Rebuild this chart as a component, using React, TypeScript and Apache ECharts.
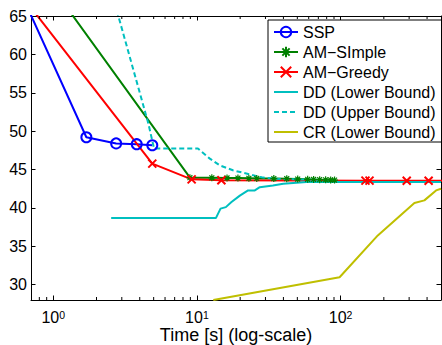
import React, { useEffect, useRef } from 'react';
import * as echarts from 'echarts';

const sspX = [0.612, 1.7, 2.74, 3.81, 4.89];
const sspY = [67.5, 49.2, 48.4, 48.3, 48.16];
const amSimpleX = [0.953, 8.94, 12.7, 16.2, 19.3, 23.0, 26.1, 34.3, 42.2, 50.3, 59.0, 64.9, 71.5, 78.7, 85.3, 90.8];
const amSimpleY = [69.1, 43.94, 43.92, 43.9, 43.88, 43.86, 43.84, 43.82, 43.8, 43.76, 43.72, 43.7, 43.68, 43.66, 43.64, 43.62];
const amGreedyX = [0.612, 4.89, 9.19, 14.8, 149, 159, 288.6, 410, 600];
const amGreedyY = [67.5, 45.77, 43.72, 43.6, 43.55, 43.55, 43.53, 43.53, 43.53];
const ddLowerX = [2.53, 13.55, 14.6, 15.9, 17.4, 19.9, 22.7, 25.3, 27.4, 33.8, 39.9, 52, 57.8, 500];
const ddLowerY = [38.67, 38.67, 39.9, 40.1, 40.76, 41.6, 42.28, 42.28, 42.7, 42.93, 43.15, 43.3, 43.37, 43.37];
const ddUpperX = [2.5, 4.59, 5.03, 10.16, 12.3, 14.4, 17.8, 23.3, 28.3, 34.8, 90];
const ddUpperY = [68.7, 51.0, 47.73, 47.73, 46.42, 45.55, 44.9, 44.37, 43.98, 43.79, 43.6];
const crLowerX = [13, 98.4, 181.6, 326.4, 383, 462, 500];
const crLowerY = [28, 30.97, 36.41, 40.63, 40.98, 42.28, 42.5];

const seriesNames = ['SSP', 'AM\u2212SImple', 'AM\u2212Greedy', 'DD (Lower Bound)', 'DD (Upper Bound)', 'CR (Lower Bound)'];
const minorTickValues = [0.8, 0.9, 2, 3, 4, 5, 6, 7, 8, 9, 20, 30, 40, 50, 60, 70, 80, 90, 200, 300, 400];

const X_MIN = 0.7;
const X_MAX = 500;
const Y_MIN = 28;
const Y_MAX = 65;

const FONT = '"Liberation Sans", Arial, Helvetica, sans-serif';

const zip = (xs: number[], ys: number[]) => xs.map((x, i) => [x, ys[i]]);

const X_PATH = 'path://M0,0L10,10M10,0L0,10';
const STAR_PATH = 'path://M5,0L5,10M0,5L10,5M1.5,1.5L8.5,8.5M8.5,1.5L1.5,8.5';

function buildOption() {
  const logLabel = (v: number) => {
    const l = Math.log10(v);
    const e = Math.round(l);
    if (Math.abs(l - e) > 1e-6) return '';
    return '{b|10}{s|' + e + '}';
  };
  const xCommon = {
    type: 'log',
    logBase: 10,
    min: X_MIN,
    max: X_MAX,
    splitLine: { show: false },
    axisLine: { show: true, onZero: false, lineStyle: { color: '#000', width: 1 } },
    axisTick: { show: true, inside: true, length: 4.5, lineStyle: { color: '#000', width: 1 } },
    minorTick: { show: false },
  };
  const yCommon = {
    type: 'value',
    min: Y_MIN,
    max: Y_MAX,
    splitNumber: 7,
    minInterval: 5,
    maxInterval: 5,
    splitLine: { show: false },
    axisLine: { show: true, onZero: false, lineStyle: { color: '#000', width: 1 } },
    axisTick: { show: true, inside: true, length: 4.5, lineStyle: { color: '#000', width: 1 } },
  };
  const lineSeries = (name: string, xs: number[], ys: number[], color: string, extra: any) => ({
    name,
    type: 'line',
    data: zip(xs, ys),
    lineStyle: { color, width: 2, ...(extra.lineStyle || {}) },
    itemStyle: extra.symbol
      ? { color: 'rgba(0,0,0,0)', borderColor: color, borderWidth: extra.borderWidth || 2 }
      : { color: 'rgba(0,0,0,0)', borderColor: 'rgba(0,0,0,0)', borderWidth: 0 },
    symbol: extra.symbol || 'none',
    symbolSize: extra.symbolSize || 6,
    showSymbol: !!extra.symbol,
    clip: true,
    emphasis: { disabled: true },
    silent: true,
    z: 3,
  });
  return {
    animation: false,
    backgroundColor: '#fff',
    textStyle: { fontFamily: FONT },
    grid: { left: 31, top: 16, right: 1, bottom: 45, containLabel: false, outerBoundsMode: 'none' },
    legend: {
      orient: 'vertical',
      left: 268,
      top: 20,
      itemWidth: 24,
      itemHeight: 13,
      itemGap: 4,
      padding: [4, 6, 2, 5],
      backgroundColor: '#fff',
      borderColor: '#000',
      borderWidth: 1,
      borderRadius: 0,
      textStyle: { fontSize: 16, color: '#000', fontFamily: FONT },
      data: seriesNames,
      selectedMode: false,
    },
    xAxis: [
      {
        ...xCommon,
        position: 'bottom',
        axisLabel: {
          show: true,
          margin: 9.5,
          showMinLabel: false,
          showMaxLabel: false,
          color: '#000',
          formatter: logLabel,
          rich: {
            b: { fontSize: 16, lineHeight: 16, verticalAlign: 'bottom', color: '#000', fontFamily: FONT },
            s: { fontSize: 10.5, lineHeight: 7, verticalAlign: 'top', color: '#000', fontFamily: FONT },
          },
        },
        name: 'Time [s] (log-scale)',
        nameLocation: 'middle',
        nameGap: 26,
        nameMoveOverlap: false,
        nameTextStyle: { fontSize: 18, color: '#000', fontFamily: FONT },
      },
      {
        ...xCommon,
        position: 'top',
        axisLabel: { show: false },
      },
    ],
    yAxis: [
      {
        ...yCommon,
        position: 'left',
        axisLabel: { show: true, margin: 4, fontSize: 16, color: '#000', fontFamily: FONT, showMinLabel: false,
          formatter: (v: number) => (v % 5 === 0 ? String(v) : '') },
      },
      {
        ...yCommon,
        position: 'right',
        axisLabel: { show: false },
      },
    ],
    series: [
      lineSeries(seriesNames[0], sspX, sspY, '#0000ff', { symbol: 'circle', symbolSize: 10 }),
      lineSeries(seriesNames[1], amSimpleX, amSimpleY, '#008000', { symbol: STAR_PATH, symbolSize: 7, borderWidth: 1.2 }),
      lineSeries(seriesNames[2], amGreedyX, amGreedyY, '#ff0000', { symbol: X_PATH, symbolSize: 8 }),
      lineSeries(seriesNames[3], ddLowerX, ddLowerY, '#00bfbf', {}),
      lineSeries(seriesNames[4], ddUpperX, ddUpperY, '#00bfbf', { lineStyle: { type: [5, 3] } }),
      lineSeries(seriesNames[5], crLowerX, crLowerY, '#bfbf00', {}),
      {
        name: 'minor',
        type: 'custom',
        silent: true,
        clip: false,
        z: 10,
        data: minorTickValues.map((v) => [v, Y_MIN]),
        encode: { x: 0, y: 1 },
        renderItem: (params: any, api: any) => {
          const v = api.value(0);
          const p = api.coord([v, Y_MIN]);
          const cs = params.coordSys;
          const yb = cs.y + cs.height;
          const yt = cs.y;
          return {
            type: 'group',
            children: [
              { type: 'line', shape: { x1: p[0], y1: yb, x2: p[0], y2: yb - 3 }, style: { stroke: '#000', lineWidth: 1 } },
              { type: 'line', shape: { x1: p[0], y1: yt, x2: p[0], y2: yt + 3 }, style: { stroke: '#000', lineWidth: 1 } },
            ],
          };
        },
      },
    ],
  };
}

export default function App() {
  const ref = useRef<HTMLDivElement>(null);
  useEffect(() => {
    if (!ref.current) return;
    const chart = echarts.init(ref.current, null, { renderer: 'svg', width: 442, height: 345 });
    chart.setOption(buildOption() as any);
    return () => chart.dispose();
  }, []);
  return <div ref={ref} style={{ position: 'absolute', left: 0, top: 0, width: 442, height: 345 }} />;
}
